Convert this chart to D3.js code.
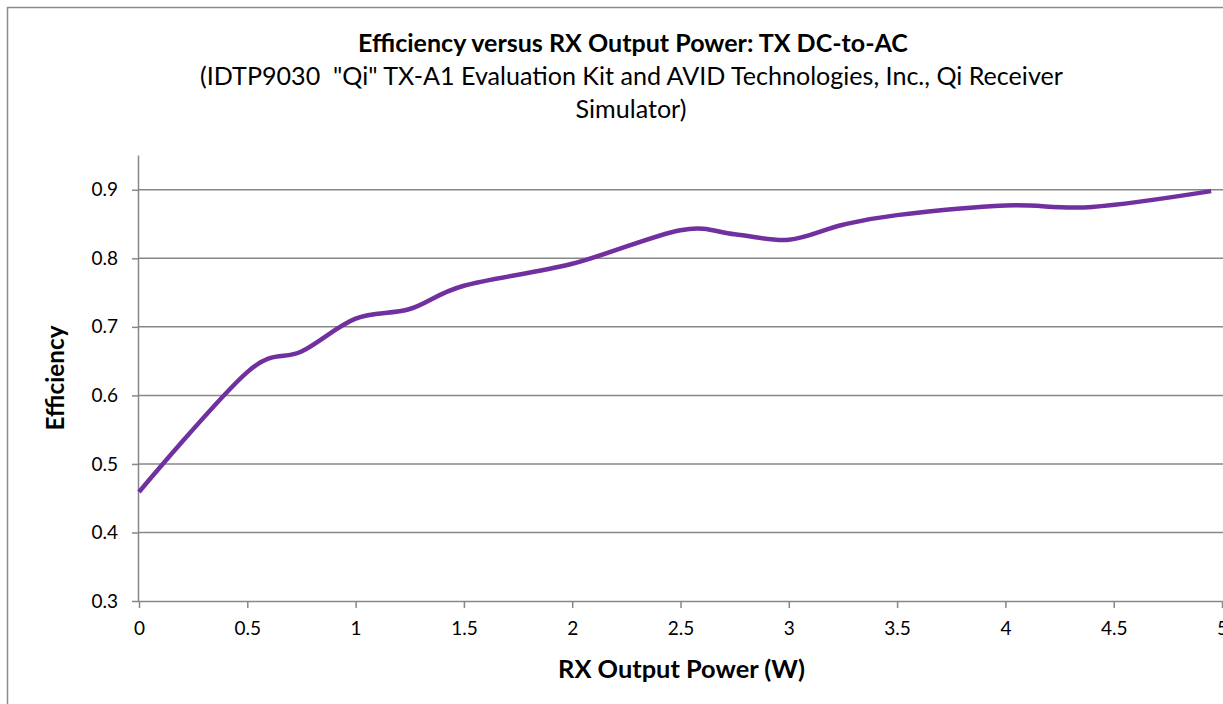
<!DOCTYPE html>
<html>
<head>
<meta charset="utf-8">
<script src="https://cdn.jsdelivr.net/npm/d3@7"></script>
<style>
html,body{margin:0;padding:0;background:#fff;}
svg{display:block;}
text{font-family:Lato,"Open Sans",sans-serif;fill:#000;white-space:pre;}
</style>
</head>
<body>
<svg id="chart" width="1223" height="704"></svg>
<script>
const titleText = "Efficiency versus RX Output Power: TX DC-to-AC";
const subtitleLines = ["(IDTP9030  \"Qi\" TX-A1 Evaluation Kit and AVID Technologies, Inc., Qi Receiver", "Simulator)"];
const xTitle = "RX Output Power (W)";
const yTitle = "Efficiency";
const xTicks = [0, 0.5, 1, 1.5, 2, 2.5, 3, 3.5, 4, 4.5, 5];
const yTicks = [0.3, 0.4, 0.5, 0.6, 0.7, 0.8, 0.9];
const powerW = [0, 0.5, 0.75, 1.0, 1.25, 1.5, 2.0, 2.5, 2.75, 3.0, 3.25, 3.5, 4.0, 4.4, 4.95];
const efficiency = [0.459, 0.634, 0.664, 0.712, 0.726, 0.760, 0.792, 0.841, 0.835, 0.827, 0.849, 0.863, 0.877, 0.875, 0.898];

const svg = d3.select("#chart");
const gridCol = "#878787";

// outer frame
svg.append("rect").attr("x", 7.5).attr("y", 7.5).attr("width", 1400).attr("height", 900)
  .attr("fill", "none").attr("stroke", "#8c8c8c").attr("stroke-width", 1.5);

const x = d3.scaleLinear().domain([0, 5]).range([139, 1222]);
const y = d3.scaleLinear().domain([0.3, 0.95]).range([601, 155.5]);

function fit(sel, target) {
  const w = sel.node().getComputedTextLength();
  const fs = parseFloat(sel.attr("font-size"));
  sel.attr("font-size", fs * target / w);
}

// gridlines
svg.append("g").selectAll("line").data(yTicks.filter(d => d > 0.3)).join("line")
  .attr("x1", x(0)).attr("x2", 1223).attr("y1", d => y(d)).attr("y2", d => y(d))
  .attr("stroke", gridCol).attr("stroke-width", 1.5);

// y axis
const yAxis = d3.axisLeft(y).tickValues(yTicks).tickFormat(d3.format(".1f")).tickSize(7).tickPadding(14);
const gy = svg.append("g").attr("transform", `translate(${x(0)},0)`).call(yAxis)
  .attr("font-size", null).attr("font-family", null);
gy.select(".domain").attr("d", `M-0.5,${y(0.95)}V${y(0.3)}`).attr("stroke", gridCol).attr("stroke-width", 1.5);
gy.selectAll(".tick line").attr("stroke", gridCol).attr("stroke-width", 1.5);
gy.selectAll(".tick text").style("font-size", "19px").style("font-family", "Lato, 'Open Sans', sans-serif").attr("fill", "#000");

// x axis
const xAxis = d3.axisBottom(x).tickValues(xTicks).tickFormat(d => String(d)).tickSize(7).tickPadding(14);
const gx = svg.append("g").attr("transform", `translate(0,${y(0.3)})`).call(xAxis)
  .attr("font-size", null).attr("font-family", null);
gx.select(".domain").attr("d", `M${x(0)},0.5H1223`).attr("stroke", gridCol).attr("stroke-width", 1.5);
gx.selectAll(".tick line").attr("stroke", gridCol).attr("stroke-width", 1.5);
gx.selectAll(".tick text").style("font-size", "19px").style("font-family", "Lato, 'Open Sans', sans-serif").attr("fill", "#000");

// line
const pts = powerW.map((p, i) => [p, efficiency[i]]);
const line = d3.line().x(d => x(d[0])).y(d => y(d[1])).curve(d3.curveCardinal.tension(0));
svg.append("path").datum(pts).attr("d", line).attr("fill", "none")
  .attr("stroke", "#7030A0").attr("stroke-width", 4.5).attr("stroke-linejoin", "round");

// titles
const t = svg.append("text").attr("x", 633).attr("y", 52).attr("text-anchor", "middle")
  .attr("font-weight", "bold").attr("font-size", 19).text(titleText);
fit(t, 550);
const s1 = svg.append("text").attr("x", 631.5).attr("y", 85).attr("text-anchor", "middle")
  .attr("font-size", 19).text(subtitleLines[0]);
fit(s1, 863);
const fsSub = s1.attr("font-size");
svg.append("text").attr("x", 631).attr("y", 118).attr("text-anchor", "middle")
  .attr("font-size", fsSub).text(subtitleLines[1]);

const xt = svg.append("text").attr("x", 681.5).attr("y", 678).attr("text-anchor", "middle")
  .attr("font-weight", "bold").attr("font-size", 19).text(xTitle);
fit(xt, 247);

const yt = svg.append("text").attr("transform", `translate(64,378) rotate(-90)`).attr("text-anchor", "middle")
  .attr("font-weight", "bold").attr("font-size", 19).text(yTitle);
fit(yt, 105);
</script>
</body>
</html>
